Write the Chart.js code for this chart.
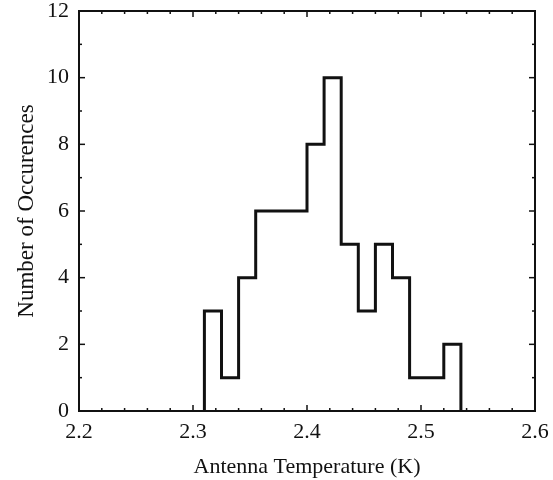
<!DOCTYPE html>
<html>
<head>
<meta charset="utf-8">
<script src="https://cdn.jsdelivr.net/npm/chart.js@4.4.0/dist/chart.umd.min.js"></script>
<style>
  body { margin: 0; background: #fff; }
</style>
</head>
<body>
<canvas id="chart" width="553" height="480"></canvas>
<script>
// histogram bin edges (K) and counts per bin
const binEdges = [2.31, 2.325, 2.34, 2.355, 2.37, 2.385, 2.40, 2.415, 2.43, 2.445, 2.46, 2.475, 2.49, 2.505, 2.52, 2.535];
const counts = [3, 1, 4, 6, 6, 6, 8, 10, 5, 3, 5, 4, 1, 1, 2];

const xMajorTicks = [2.2, 2.3, 2.4, 2.5, 2.6];
const xMinorTicks = [2.22, 2.24, 2.26, 2.28, 2.32, 2.34, 2.36, 2.38, 2.42, 2.44, 2.46, 2.48, 2.52, 2.54, 2.56, 2.58];
const yMajorTicks = [0, 2, 4, 6, 8, 10, 12];
const yMinorTicks = [1, 3, 5, 7, 9, 11];

// build step points: start on the baseline, one point per bin, back to baseline
const points = [{ x: binEdges[0], y: 0 }];
counts.forEach((c, i) => points.push({ x: binEdges[i], y: c }));
points.push({ x: binEdges[binEdges.length - 1], y: 0 });

const serif = "'Liberation Serif', 'DejaVu Serif', serif";

// frame around the plot with inward tick marks
const framePlugin = {
  id: "frame",
  afterDraw(chart) {
    const { ctx, chartArea: a, scales } = chart;
    const xs = scales.x, ys = scales.y;
    ctx.save();
    ctx.strokeStyle = "#111";
    ctx.lineWidth = 1.5;
    const tick = (x1, y1, x2, y2) => {
      ctx.beginPath();
      ctx.moveTo(x1, y1);
      ctx.lineTo(x2, y2);
      ctx.stroke();
    };
    xMajorTicks.forEach((v) => {
      const px = xs.getPixelForValue(v);
      tick(px, a.bottom, px, a.bottom - 6);
      tick(px, a.top, px, a.top + 6);
    });
    xMinorTicks.forEach((v) => {
      const px = xs.getPixelForValue(v);
      tick(px, a.bottom, px, a.bottom - 3);
      tick(px, a.top, px, a.top + 3);
    });
    yMajorTicks.forEach((v) => {
      const py = ys.getPixelForValue(v);
      tick(a.left, py, a.left + 6, py);
      tick(a.right, py, a.right - 6, py);
    });
    yMinorTicks.forEach((v) => {
      const py = ys.getPixelForValue(v);
      tick(a.left, py, a.left + 3, py);
      tick(a.right, py, a.right - 3, py);
    });
    ctx.lineWidth = 2;
    ctx.strokeRect(a.left, a.top, a.right - a.left, a.bottom - a.top);
    ctx.restore();
  },
};

new Chart(document.getElementById("chart"), {
  type: "line",
  data: {
    datasets: [
      {
        data: points,
        stepped: "before",
        borderColor: "#111",
        borderWidth: 3,
        pointRadius: 0,
        fill: false,
        clip: false,
      },
    ],
  },
  options: {
    responsive: false,
    animation: false,
    layout: { padding: { top: 11, right: 18, left: 0, bottom: 0 } },
    plugins: {
      legend: { display: false },
      tooltip: { enabled: false },
    },
    scales: {
      x: {
        type: "linear",
        min: 2.2,
        max: 2.6,
        grid: { display: false, drawTicks: false },
        border: { display: false },
        ticks: {
          stepSize: 0.1,
          autoSkip: false,
          maxRotation: 0,
          padding: 8,
          color: "#111",
          font: { family: serif, size: 22 },
          callback: (v) => v.toFixed(1),
        },
        title: {
          display: true,
          text: "Antenna Temperature (K)",
          color: "#111",
          font: { family: serif, size: 22 },
          padding: { top: 0, bottom: 0 },
        },
        afterFit: (s) => {
          s.height = 69;
          s.paddingLeft = 0;
          s.paddingRight = 0;
        },
      },
      y: {
        min: 0,
        max: 12,
        grid: { display: false, drawTicks: false },
        border: { display: false },
        ticks: {
          stepSize: 2,
          padding: 10,
          color: "#111",
          font: { family: serif, size: 22 },
        },
        title: {
          display: true,
          text: "Number of Occurences",
          color: "#111",
          font: { family: serif, size: 23 },
          padding: { top: 13, bottom: 0 },
        },
        afterFit: (s) => {
          s.width = 79;
          s.paddingTop = 0;
          s.paddingBottom = 0;
        },
      },
    },
  },
  plugins: [framePlugin],
});
</script>
</body>
</html>
